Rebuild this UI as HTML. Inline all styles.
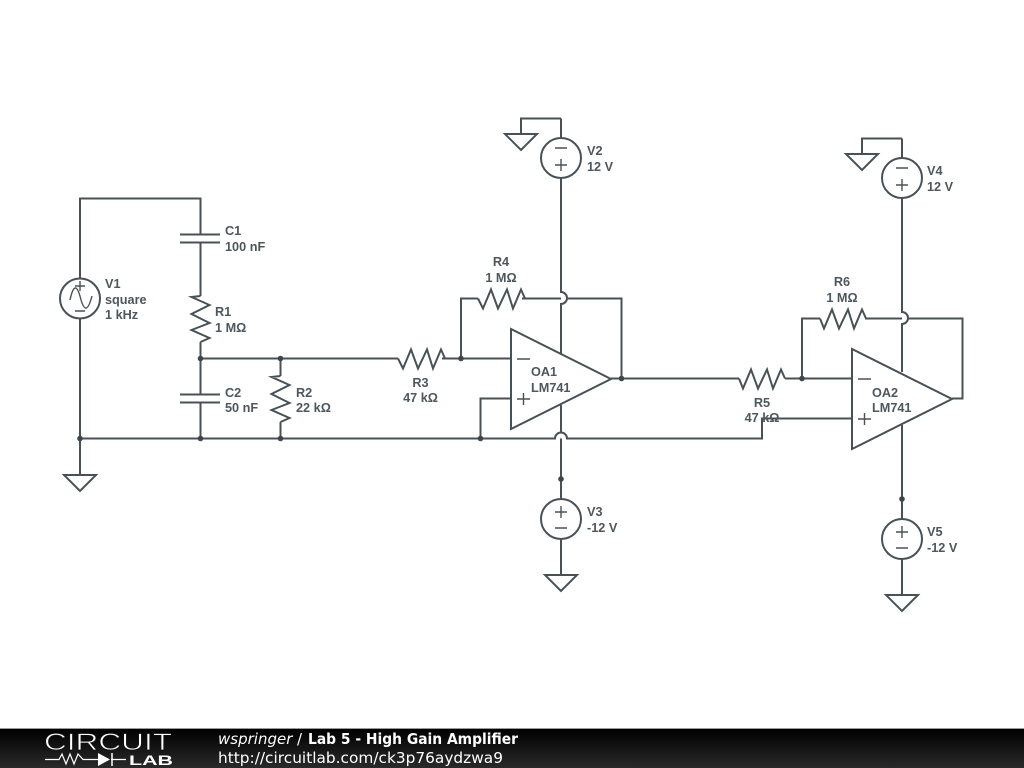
<!DOCTYPE html>
<html>
<head>
<meta charset="utf-8">
<style>
html,body{margin:0;padding:0;background:#fff;width:1024px;height:768px;overflow:hidden}
svg{display:block}
.w{fill:none;stroke:#485256;stroke-width:2;stroke-linejoin:miter}
.s{fill:none;stroke:#485256;stroke-width:1.4}
.t{fill:#fff;stroke:#485256;stroke-width:2}
.d{fill:#3c464b}
text.l{font-family:"Liberation Sans",Arial,sans-serif;font-size:12.7px;font-weight:bold;fill:#4d575c}
.f{font-family:"DejaVu Sans",sans-serif;font-size:15px;fill:#fff}
</style>
</head>
<body>
<svg width="1024" height="768" viewBox="0 0 1024 768" xmlns="http://www.w3.org/2000/svg">
<rect width="1024" height="768" fill="#fff"/>
<g class="w">
<path d="M80 278.500V198.500H200.500V234.500M200.500 242.500V296M200.500 342V394.500M200.500 402.500V438.500"/>
<path d="M180 234.500H220M180 242.500H220M180 394.500H220M180 402.500H220"/>
<path d="M80 318.500V475M200.500 358.500H398M442 358.500H511M461 358.500V298.500H478M280.500 358.500V376M280.500 422V438.500"/>
<path d="M80 438.500H555A6 6 0 0 1 567 438.500H762V418.500H852M480.500 438.500V398.500H511"/>
<path d="M522 298.500H561M567 298.500H621.500V378.500M611 378.500H739M785 378.500H852M802 378.500V318.500H820M865 318.500H902M908 318.500H962.500V398.500H952"/>
<path d="M561 118.500V138M561 118.500H521V134M561 178V292A6 6 0 0 1 561 304V355M561 405V432M561 438.500V499M561 539V575"/>
<path d="M902 138.500V158M902 138.500H862V154M902 198V312A6 6 0 0 1 902 324V372M902 425V519M902 559V595"/>
<!-- resistors -->
<path d="M398 358.500L403 368.500L411 349.500L418 368.500L427 349.500L433 368.500L441 349.500L445 358.500"/>
<path d="M478 298.500L483 308.500L491 289.500L498 308.500L507 289.500L513 308.500L521 289.500L525 298.500"/>
<path d="M739 378.500L743 388.500L751 369.500L758 388.500L767 369.500L773 388.500L781 369.500L785 378.500"/>
<path d="M820 318.500L824 328.500L832 309.500L839 328.500L848 309.500L854 328.500L862 309.500L866 318.500"/>
<path d="M200.500 296L191.500 297L209.500 305L191.500 314L209.500 323L191.500 330L209.500 338L200.500 342"/>
<path d="M280.500 376L271.500 377L289.500 385L271.500 394L289.500 403L271.500 410L289.500 418L280.500 422"/>
</g>
<!-- op amps -->
<path class="t" d="M511 329V429L611 379Z"/>
<path class="t" d="M852 349V449L952 399Z"/>
<path class="s" d="M517 359H530M517 399H530M523.500 393V405M858 379H871M858 419H871M864.500 413V425"/>
<!-- sources -->
<circle class="t" cx="80" cy="298.500" r="20"/>
<circle class="t" cx="561" cy="158" r="20"/>
<circle class="t" cx="561" cy="519" r="20"/>
<circle class="t" cx="902" cy="178" r="20"/>
<circle class="t" cx="902" cy="539" r="20"/>
<g class="s">
<path d="M75 286H85M80 281V291M75 311H85"/>
<path d="M70 300Q75 277 80.500 298T92 296"/>
<path d="M555 148H567M555 165H567M561 159V171"/>
<path d="M555 512H567M561 506V518M555 528H567"/>
<path d="M896 168H908M896 185H908M902 179V191"/>
<path d="M896 532H908M902 526V538M896 548H908"/>
</g>
<!-- grounds -->
<path class="t" d="M505 134H537L521 150Z"/>
<path class="t" d="M846 154H878L862 170Z"/>
<path class="t" d="M64 475H96L80 491Z"/>
<path class="t" d="M545 575H577L561 591Z"/>
<path class="t" d="M886 595H918L902 611Z"/>
<!-- junctions -->
<g class="d">
<circle cx="80" cy="438.500" r="2.800"/>
<circle cx="200.500" cy="438.500" r="2.800"/>
<circle cx="280.500" cy="438.500" r="2.800"/>
<circle cx="480.500" cy="438.500" r="2.800"/>
<circle cx="200.500" cy="358.500" r="2.800"/>
<circle cx="280.500" cy="358.500" r="2.800"/>
<circle cx="461" cy="358.500" r="2.800"/>
<circle cx="621.500" cy="378.500" r="2.800"/>
<circle cx="802" cy="378.500" r="2.800"/>
<circle cx="561" cy="479" r="2.800"/>
<circle cx="902" cy="499" r="2.800"/>
</g>
<!-- labels -->
<text class="l" x="225" y="235">C1</text><text class="l" x="225" y="251">100 nF</text>
<text class="l" x="105" y="288">V1</text><text class="l" x="105" y="304">square</text><text class="l" x="105" y="319">1 kHz</text>
<text class="l" x="215" y="316">R1</text><text class="l" x="215" y="332">1 MΩ</text>
<text class="l" x="225" y="397">C2</text><text class="l" x="225" y="412">50 nF</text>
<text class="l" x="296" y="397">R2</text><text class="l" x="296" y="412">22 kΩ</text>
<text class="l" x="420.500" y="387" text-anchor="middle">R3</text><text class="l" x="420.500" y="402" text-anchor="middle">47 kΩ</text>
<text class="l" x="501" y="266" text-anchor="middle">R4</text><text class="l" x="501" y="282" text-anchor="middle">1 MΩ</text>
<text class="l" x="762" y="407" text-anchor="middle">R5</text><text class="l" x="762" y="422" text-anchor="middle">47 kΩ</text>
<text class="l" x="842" y="286" text-anchor="middle">R6</text><text class="l" x="842" y="302" text-anchor="middle">1 MΩ</text>
<text class="l" x="587" y="155">V2</text><text class="l" x="587" y="171">12 V</text>
<text class="l" x="587" y="516">V3</text><text class="l" x="587" y="532">-12 V</text>
<text class="l" x="927" y="175">V4</text><text class="l" x="927" y="191">12 V</text>
<text class="l" x="927" y="536">V5</text><text class="l" x="927" y="552">-12 V</text>
<text class="l" x="531" y="376">OA1</text><text class="l" x="531" y="392">LM741</text>
<text class="l" x="872" y="397">OA2</text><text class="l" x="872" y="412">LM741</text>
<!-- footer -->
<defs>
<linearGradient id="g" x1="0" y1="0" x2="0" y2="1">
<stop offset="0" stop-color="#000"/><stop offset="1" stop-color="#2a2a2a"/>
</linearGradient>
</defs>
<rect x="0" y="728" width="1024" height="1" fill="#9a9a9a"/>
<rect x="0" y="729" width="1024" height="39" fill="url(#g)"/>
<text x="44" y="750" textLength="128" lengthAdjust="spacingAndGlyphs" font-family="Liberation Sans,sans-serif" font-size="24.5" fill="#fff" stroke="#111" stroke-width="0.7">CIRCUIT</text>
<text x="129" y="765" textLength="44" lengthAdjust="spacingAndGlyphs" font-family="Liberation Sans,sans-serif" font-size="14" font-weight="bold" fill="#fff">LAB</text>
<path d="M45 759.500H59L62 754L66 764L70 754L74 764L78 754L83 759.500H99M111 759.500H126" fill="none" stroke="#fff" stroke-width="1.200"/>
<path d="M98 753V766L110 759.500Z" fill="#fff"/>
<path d="M112 753V766" stroke="#fff" stroke-width="1.500"/>
<text class="f" x="218" y="744" font-style="italic">wspringer</text>
<text class="f" x="297" y="744">/</text>
<text class="f" x="308" y="744" font-weight="bold" textLength="210" lengthAdjust="spacingAndGlyphs">Lab 5 - High Gain Amplifier</text>
<text class="f" x="218" y="763" textLength="285" lengthAdjust="spacingAndGlyphs">http://circuitlab.com/ck3p76aydzwa9</text>
</svg>
</body>
</html>
